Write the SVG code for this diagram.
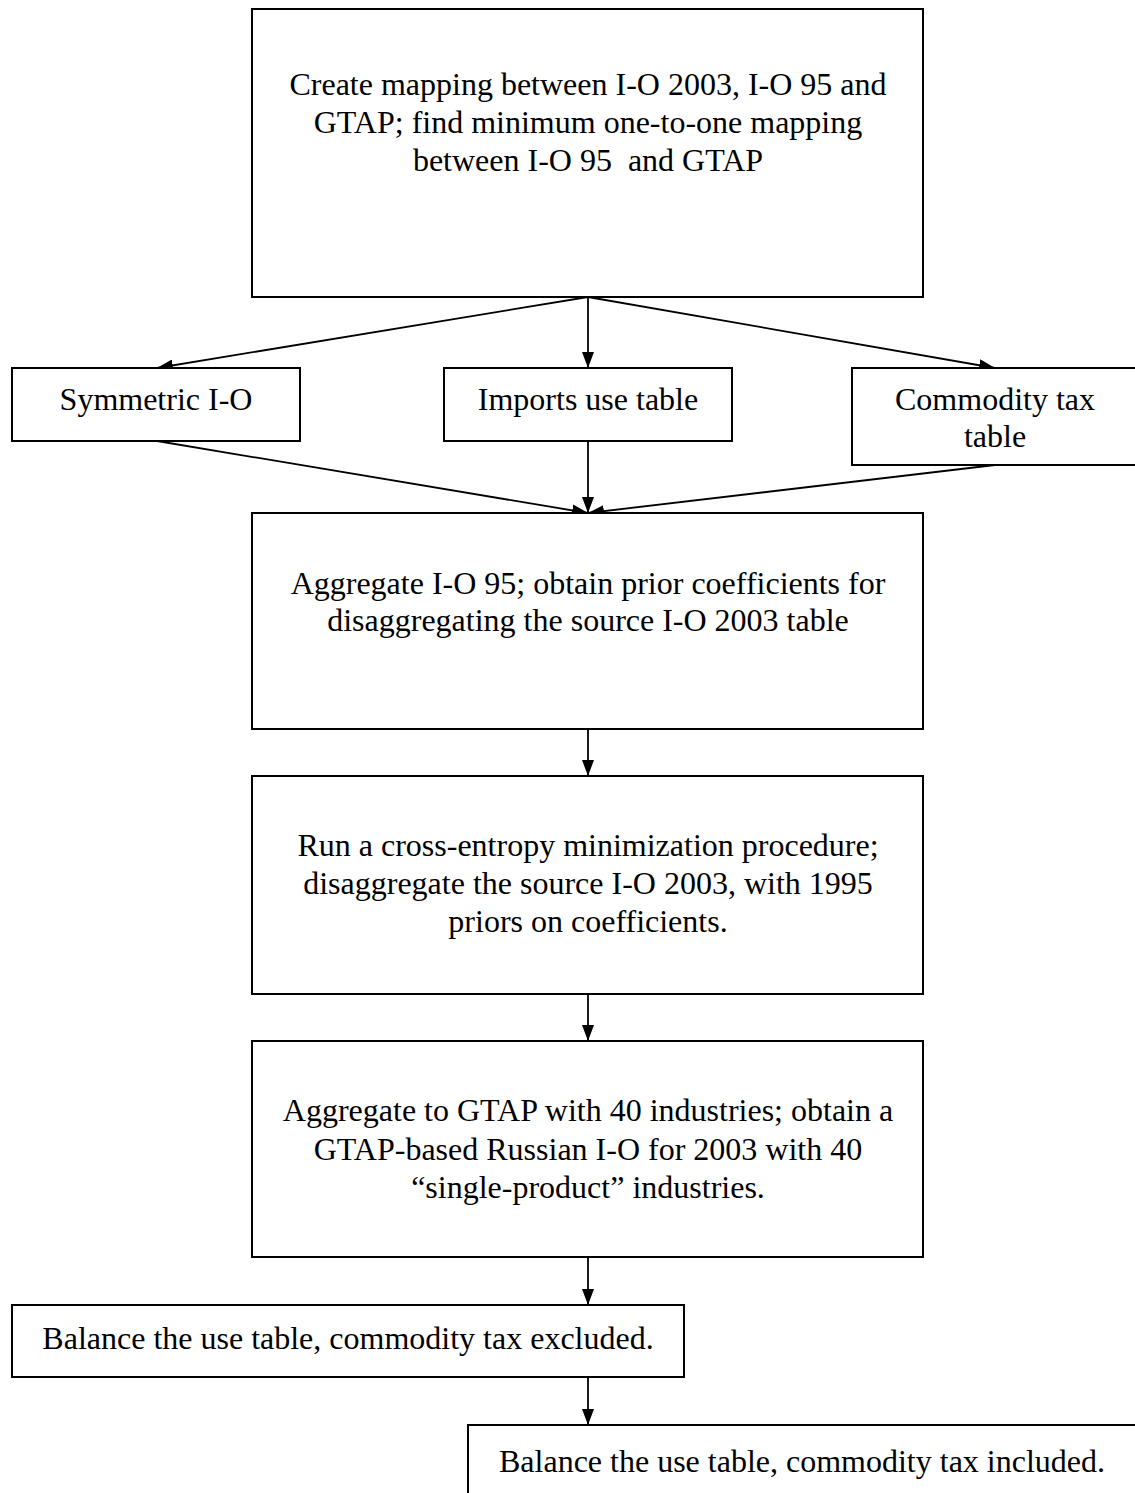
<svg xmlns="http://www.w3.org/2000/svg" width="1135" height="1493" viewBox="0 0 1135 1493">
<style>
.box{fill:#fff;stroke:#000;stroke-width:2}
.t{font-family:"Liberation Serif","Times New Roman",serif;font-size:32px;fill:#000;text-anchor:middle}
.c{stroke:#000;stroke-width:1.8;fill:none;marker-end:url(#ah)}
</style>
<defs>
<marker id="ah" viewBox="0 0 16 12" refX="16" refY="6" markerWidth="16" markerHeight="12" markerUnits="userSpaceOnUse" orient="auto">
<path d="M0,0 L16,6 L0,12 Z" fill="#000"/>
</marker>
</defs>
<rect width="1135" height="1493" fill="#fff"/>
<g id="connectors">
<line class="c" x1="588" y1="297" x2="157" y2="368"/>
<line class="c" x1="588" y1="297" x2="588" y2="368"/>
<line class="c" x1="588" y1="297" x2="995" y2="368"/>
<line class="c" x1="157" y1="441" x2="588" y2="513"/>
<line class="c" x1="588" y1="441" x2="588" y2="513"/>
<line class="c" x1="995" y1="465" x2="588" y2="513"/>
<line class="c" x1="588" y1="729" x2="588" y2="776"/>
<line class="c" x1="588" y1="994" x2="588" y2="1041"/>
<line class="c" x1="588" y1="1257" x2="588" y2="1305"/>
<line class="c" x1="588" y1="1377" x2="588" y2="1425"/>
</g>
<g id="n1">
<rect class="box" x="252" y="9" width="671" height="288"/>
<text class="t" x="588" y="95">Create mapping between I-O 2003, I-O 95 and</text>
<text class="t" x="588" y="133">GTAP; find minimum one-to-one mapping</text>
<text class="t" x="588" y="171" xml:space="preserve">between I-O 95  and GTAP</text>
</g>
<g id="n2">
<rect class="box" x="12" y="368" width="288" height="73"/>
<text class="t" x="156" y="410">Symmetric I-O</text>
</g>
<g id="n3">
<rect class="box" x="444" y="368" width="288" height="73"/>
<text class="t" x="588" y="410">Imports use table</text>
</g>
<g id="n4">
<rect class="box" x="852" y="368" width="300" height="97"/>
<text class="t" x="995" y="410">Commodity tax</text>
<text class="t" x="995" y="447">table</text>
</g>
<g id="n5">
<rect class="box" x="252" y="513" width="671" height="216"/>
<text class="t" x="588" y="594">Aggregate I-O 95; obtain prior coefficients for</text>
<text class="t" x="588" y="631">disaggregating the source I-O 2003 table</text>
</g>
<g id="n6">
<rect class="box" x="252" y="776" width="671" height="218"/>
<text class="t" x="588" y="856">Run a cross-entropy minimization procedure;</text>
<text class="t" x="588" y="894">disaggregate the source I-O 2003, with 1995</text>
<text class="t" x="588" y="932">priors on coefficients.</text>
</g>
<g id="n7">
<rect class="box" x="252" y="1041" width="671" height="216"/>
<text class="t" x="588" y="1121">Aggregate to GTAP with 40 industries; obtain a</text>
<text class="t" x="588" y="1160">GTAP-based Russian I-O for 2003 with 40</text>
<text class="t" x="588" y="1198">“single-product” industries.</text>
</g>
<g id="n8">
<rect class="box" x="12" y="1305" width="672" height="72"/>
<text class="t" x="348" y="1349">Balance the use table, commodity tax excluded.</text>
</g>
<g id="n9">
<rect class="box" x="468" y="1425" width="680" height="90"/>
<text class="t" x="802" y="1472">Balance the use table, commodity tax included.</text>
</g>
</svg>
